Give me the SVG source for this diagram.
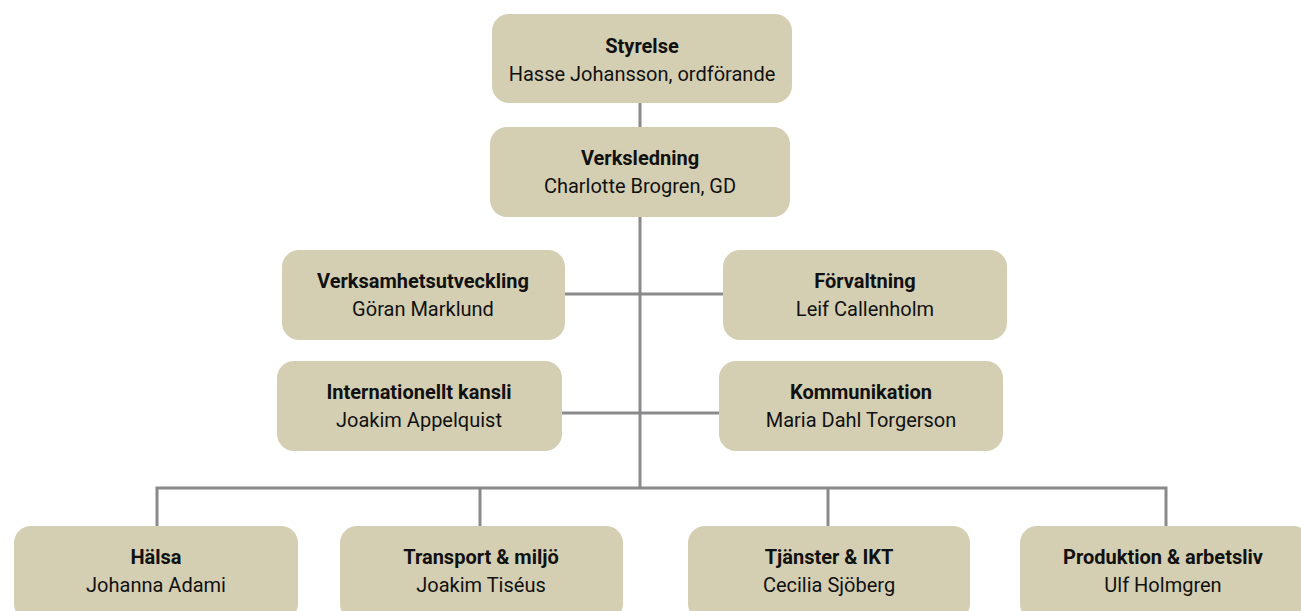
<svg xmlns="http://www.w3.org/2000/svg" width="1301" height="611" viewBox="0 0 1301 611">
<style>
.box{fill:#d4cfb2;}
.t{font-family:Roboto,"Liberation Sans",sans-serif;font-size:20px;fill:#111;text-anchor:middle;}
.b{font-weight:bold;}
.c{stroke:#8a8a8c;stroke-width:3;fill:none;}
</style>
<rect width="1301" height="611" fill="#fff"/>
<g id="connectors">
<line class="c" x1="640" y1="103" x2="640" y2="127"/>
<line class="c" x1="640" y1="217" x2="640" y2="487"/>
<line class="c" x1="565" y1="294" x2="723" y2="294"/>
<line class="c" x1="562" y1="413" x2="719" y2="413"/>
<polyline class="c" points="157,526 157,488 1166,488 1166,526"/>
<line class="c" x1="480" y1="488" x2="480" y2="526"/>
<line class="c" x1="828" y1="488" x2="828" y2="526"/>
</g>
<g id="styrelse"><rect class="box" x="492" y="14" width="300" height="89" rx="17"/><text class="t b" x="642" y="53">Styrelse</text><text class="t" x="642" y="81">Hasse Johansson, ordförande</text></g>
<g id="verksledning"><rect class="box" x="490" y="127" width="300" height="90" rx="17"/><text class="t b" x="640" y="165">Verksledning</text><text class="t" x="640" y="193">Charlotte Brogren, GD</text></g>
<g id="verksamhetsutveckling"><rect class="box" x="282" y="250" width="283" height="90" rx="17"/><text class="t b" x="423" y="288">Verksamhetsutveckling</text><text class="t" x="423" y="316">Göran Marklund</text></g>
<g id="forvaltning"><rect class="box" x="723" y="250" width="284" height="90" rx="17"/><text class="t b" x="865" y="288">Förvaltning</text><text class="t" x="865" y="316">Leif Callenholm</text></g>
<g id="internationellt"><rect class="box" x="277" y="361" width="285" height="90" rx="17"/><text class="t b" x="419" y="399">Internationellt kansli</text><text class="t" x="419" y="427">Joakim Appelquist</text></g>
<g id="kommunikation"><rect class="box" x="719" y="361" width="284" height="90" rx="17"/><text class="t b" x="861" y="399">Kommunikation</text><text class="t" x="861" y="427">Maria Dahl Torgerson</text></g>
<g id="halsa"><rect class="box" x="14" y="526" width="284" height="95" rx="17"/><text class="t b" x="156" y="564">Hälsa</text><text class="t" x="156" y="592">Johanna Adami</text></g>
<g id="transport"><rect class="box" x="340" y="526" width="283" height="95" rx="17"/><text class="t b" x="481" y="564">Transport &amp; miljö</text><text class="t" x="481" y="592">Joakim Tiséus</text></g>
<g id="tjanster"><rect class="box" x="688" y="526" width="282" height="95" rx="17"/><text class="t b" x="829" y="564">Tjänster &amp; IKT</text><text class="t" x="829" y="592">Cecilia Sjöberg</text></g>
<g id="produktion"><rect class="box" x="1020" y="526" width="290" height="95" rx="17"/><text class="t b" x="1163" y="564">Produktion &amp; arbetsliv</text><text class="t" x="1163" y="592">Ulf Holmgren</text></g>
</svg>
